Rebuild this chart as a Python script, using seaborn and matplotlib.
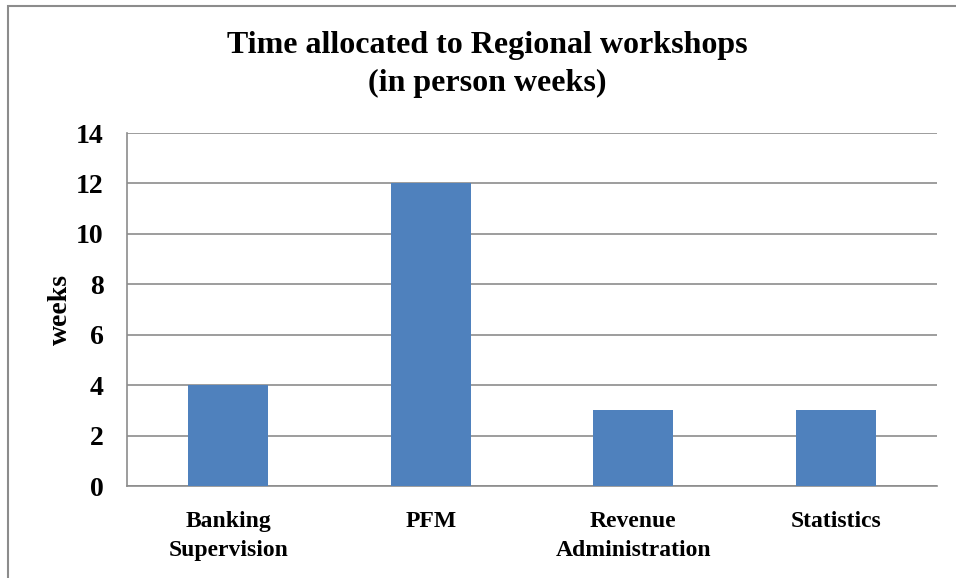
import matplotlib
matplotlib.use("Agg")
import matplotlib.pyplot as plt
import seaborn as sns
import pandas as pd
from matplotlib.patches import Rectangle

categories = ["Banking\nSupervision", "PFM", "Revenue\nAdministration", "Statistics"]
weeks = [4, 12, 3, 3]
yticks = [0, 2, 4, 6, 8, 10, 12, 14]

sns.set_theme(style="white")
plt.rcParams['font.family'] = ['Liberation Serif', 'DejaVu Serif']
plt.rcParams['text.color'] = 'black'
plt.rcParams['xtick.color'] = 'black'
plt.rcParams['ytick.color'] = 'black'
plt.rcParams['axes.labelcolor'] = 'black'

df = pd.DataFrame({"category": categories, "weeks": weeks})

fig = plt.figure(figsize=(9.56, 5.78), dpi=100)
ax = fig.add_axes([127/956, 1-486/578, (937-127)/956, (486-133)/578])

sns.barplot(data=df, x="category", y="weeks", color="#4F81BD", saturation=1,
            width=0.395, ax=ax, zorder=3, edgecolor="none", linewidth=0)

ax.set_ylim(0, 14)
ax.set_yticks(yticks)
ax.set_yticklabels([str(t) for t in yticks], fontsize=20, fontweight="bold")
ax.set_xlim(-0.5, len(categories) - 0.5)
ax.tick_params(axis="y", length=0, pad=17)
ax.tick_params(axis="x", length=0, pad=18)
ax.set_xticks(range(len(categories)))
ax.set_xticklabels(categories, fontsize=17, fontweight="bold", linespacing=1.5)
ax.yaxis.grid(True, color="#8C8C8C", linewidth=1.2, zorder=0)
ax.set_axisbelow(True)
for side in ["top", "right"]:
    ax.spines[side].set_visible(False)
for side in ["left", "bottom"]:
    ax.spines[side].set_visible(True)
    ax.spines[side].set_color("#8C8C8C")
    ax.spines[side].set_linewidth(1.2)

ax.set_xlabel("")
ax.set_ylabel("weeks", fontsize=20, fontweight="bold", labelpad=2)

fig.text(487/956, 1-46/578, "Time allocated to Regional workshops", ha="center", va="center",
         fontsize=23, fontweight="bold")
fig.text(487/956, 1-83/578, "(in person weeks)", ha="center", va="center",
         fontsize=23, fontweight="bold")

fig.patches.append(Rectangle((8/956, -0.05), 1.1, 1 - 6/578 + 0.05, transform=fig.transFigure,
                             fill=False, edgecolor="#8C8C8C", linewidth=1.5))

fig.savefig("out.png", dpi=100)
